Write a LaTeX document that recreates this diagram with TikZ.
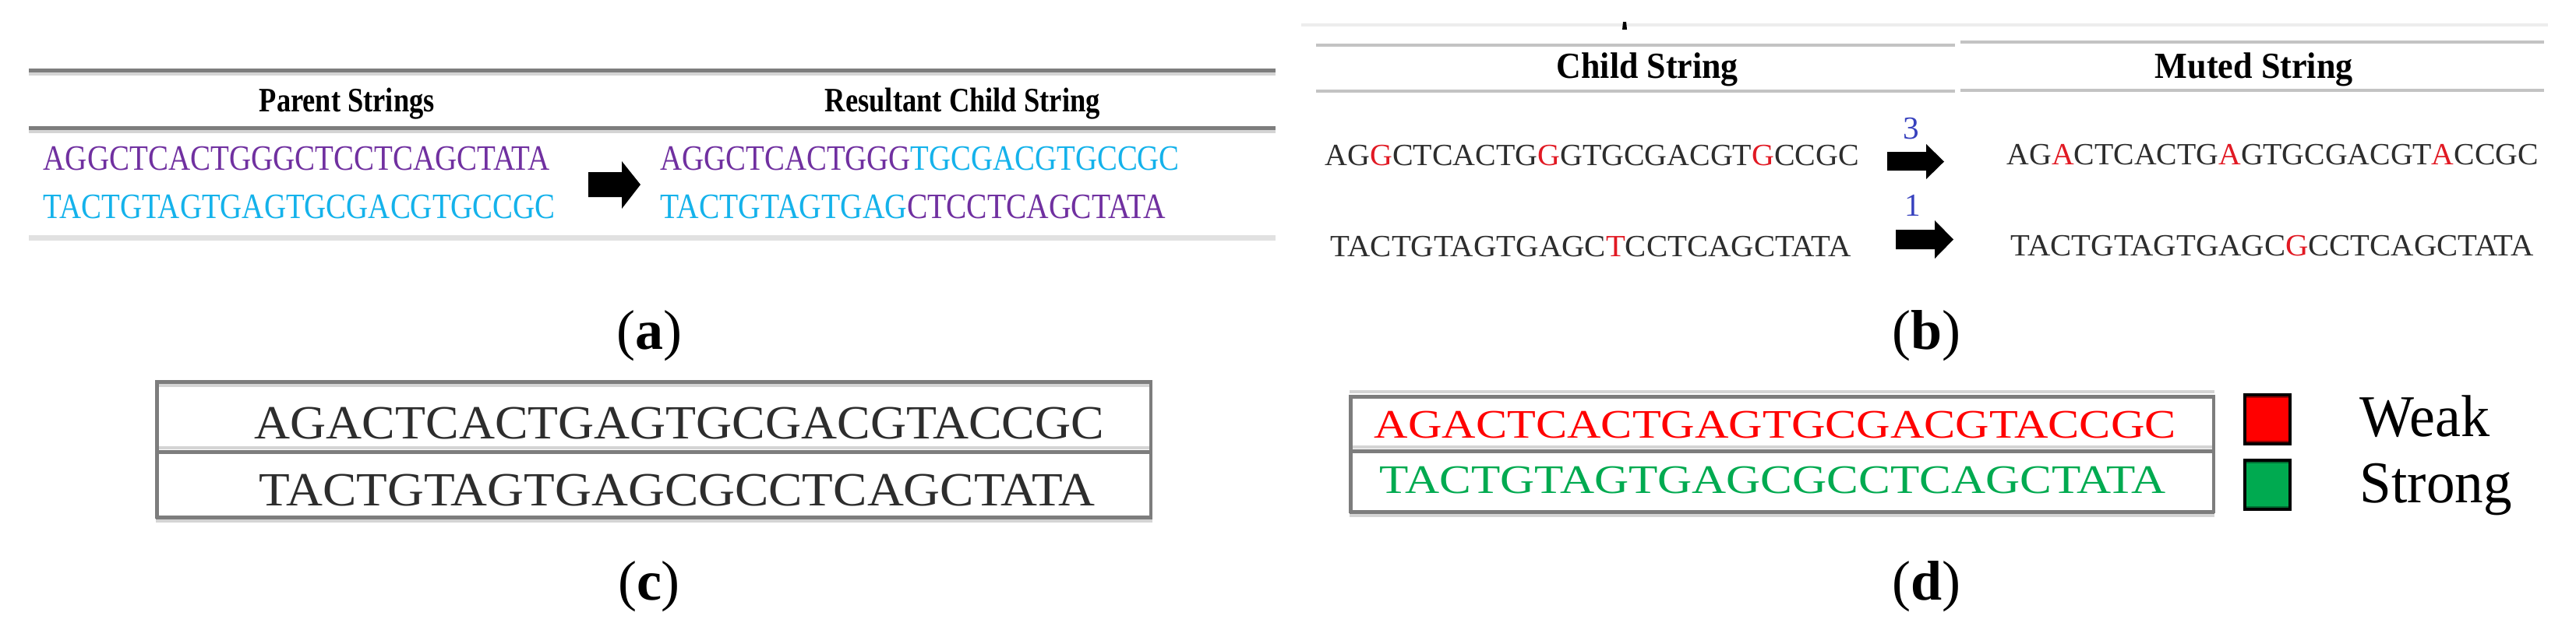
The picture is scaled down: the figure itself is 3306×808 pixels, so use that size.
\documentclass[tikz,border=0pt]{standalone}
\usepackage{fontspec}
\setmainfont{Liberation Serif}
\usepackage{graphicx}
\newlength\px
\setlength\px{0.25pt}
\newcommand\fitw[3]{\resizebox{#1\px}{\height}{\fontsize{#2}{#2}\selectfont #3}}
\definecolor{purp}{RGB}{112,48,160}
\definecolor{cyanc}{RGB}{20,178,235}
\definecolor{redc}{RGB}{255,0,0}
\definecolor{mutred}{RGB}{225,25,35}
\definecolor{greenc}{RGB}{0,170,80}
\definecolor{numblue}{RGB}{55,65,190}
\definecolor{rdark}{RGB}{125,125,125}
\definecolor{rlight}{RGB}{212,212,212}
\definecolor{rb}{RGB}{195,195,195}
\definecolor{txtc}{RGB}{45,45,45}
\definecolor{darkred}{RGB}{150,0,0}
\definecolor{darkgreen}{RGB}{0,110,50}
\newcommand\mr[1]{\textcolor{mutred}{#1}}
\begin{document}
\begin{tikzpicture}[x=0.25pt,y=-0.25pt,
  txt/.style={anchor=base west, inner sep=0pt},
  captxt/.style={anchor=base, inner sep=0pt, font=\fontsize{18}{18}\selectfont},
  drule/.style={draw=rdark, line width=1.25pt},
  lrule/.style={draw=rlight, line width=1pt},
  brule/.style={draw=rb, line width=1pt},
  blockarrow/.style={fill=black},
  legbox/.style={draw=black, line width=1pt, inner sep=0pt, minimum width=14.5pt, minimum height=15.75pt}]
\useasboundingbox (0,0) rectangle (3306,808);
\fill[white] (0,0) rectangle (3306,808);

% ---------- panel (a) ----------
\draw[lrule] (37,95) -- (1637,95);
\draw[drule] (37,90) -- (1637,90);
\draw[lrule] (37,169) -- (1637,169);
\draw[drule] (37,164) -- (1637,164);
\draw[draw=rlight!70, line width=1.75pt] (37,305) -- (1637,305);
\node[txt] (hP) at (332,143) {\fitw{225}{11}{\bfseries Parent Strings}};
\node[txt] (hR) at (1058,143) {\fitw{353}{11}{\bfseries Resultant Child String}};
\node[txt] (a1) at (55,218) {\fitw{650}{11.45}{\color{purp}AGGCTCACTGGGCTCCTCAGCTATA}};
\node[txt] (a2) at (55,280) {\fitw{657}{11.45}{\color{cyanc}TACTGTAGTGAGTGCGACGTGCCGC}};
\node[txt] (a3) at (847,218) {\fitw{666}{11.45}{\textcolor{purp}{AGGCTCACTGGG}\textcolor{cyanc}{TGCGACGTGCCGC}}};
\node[txt] (a4) at (847,280) {\fitw{648}{11.45}{\textcolor{cyanc}{TACTGTAGTGAG}\textcolor{purp}{CTCCTCAGCTATA}}};
\fill[blockarrow] (755,221) -- (798,221) -- (798,207) -- (822,237) -- (798,268) -- (798,253) -- (755,253) -- cycle;
\node[captxt] (capa) at (833,448) {(\textbf{a})};

% ---------- panel (b) ----------
\draw[draw=black!7, line width=1pt] (1670,32) -- (3270,32);
\fill (2083,28) -- (2087,28) -- (2088,38) -- (2082,38) -- cycle;
\draw[brule] (1689,58) -- (2509,58);
\draw[brule] (2516,54) -- (3265,54);
\draw[brule] (1689,117) -- (2509,117);
\draw[brule] (2516,116) -- (3265,116);
\node[txt] (hC) at (1997,100) {\fitw{233}{11.8}{\bfseries Child String}};
\node[txt] (hM) at (2765,100) {\fitw{254}{11.8}{\bfseries Muted String}};
\node[txt] (b1) at (1700,212) {\fitw{685}{9.9}{\color{txtc}AG\mr{G}CTCACTG\mr{G}GTGCGACGT\mr{G}CCGC}};
\node[txt] (b2) at (1707,329) {\fitw{668}{9.9}{\color{txtc}TACTGTAGTGAGC\mr{T}CCTCAGCTATA}};
\node[txt] (b3) at (2575,211) {\fitw{682}{9.9}{\color{txtc}AG\mr{A}CTCACTG\mr{A}GTGCGACGT\mr{A}CCGC}};
\node[txt] (b4) at (2580,328) {\fitw{671}{9.9}{\color{txtc}TACTGTAGTGAGC\mr{G}CCTCAGCTATA}};
\node[anchor=base, inner sep=0pt, text=numblue, font=\fontsize{10.3}{10.3}\selectfont] (n3) at (2453,178) {3};
\node[anchor=base, inner sep=0pt, text=numblue, font=\fontsize{10.3}{10.3}\selectfont] (n1) at (2455,277) {1};
\fill[blockarrow] (2422,195) -- (2472,195) -- (2472,185) -- (2495,207.5) -- (2472,230) -- (2472,219) -- (2422,219) -- cycle;
\fill[blockarrow] (2433,295) -- (2483,295) -- (2483,283) -- (2507,307.5) -- (2483,332) -- (2483,320) -- (2433,320) -- cycle;
\node[captxt] (capb) at (2472,448) {(\textbf{b})};

% ---------- panel (c) ----------
\draw[lrule] (200,495) -- (1479,495);
\draw[lrule] (200,575) -- (1479,575);
\draw[lrule] (200,669) -- (1479,669);
\draw[drule] (200,490) -- (1479,490);
\draw[drule] (200,580) -- (1479,580);
\draw[drule] (200,664) -- (1479,664);
\draw[drule] (201,488) -- (201,666);
\draw[draw=rdark, line width=0.8pt] (1477,488) -- (1477,666);
\node[txt] (c1) at (326,563) {\fitw{1090}{15.3}{\color{txtc}AGACTCACTGAGTGCGACGTACCGC}};
\node[txt] (c2) at (332,649) {\fitw{1073}{15.3}{\color{txtc}TACTGTAGTGAGCGCCTCAGCTATA}};
\node[captxt] (capc) at (833,770) {(\textbf{c})};

% ---------- panel (d) ----------
\draw[lrule] (1732,503) -- (2842,503);
\draw[lrule] (1732,574) -- (2842,574);
\draw[lrule] (1732,662) -- (2842,662);
\draw[drule] (1732,509) -- (2842,509);
\draw[drule] (1732,579) -- (2842,579);
\draw[drule] (1732,657) -- (2842,657);
\draw[drule] (1733,507) -- (1733,659);
\draw[draw=rdark, line width=0.8pt] (2841,507) -- (2841,659);
\node[txt] (d1) at (1763,562) {\fitw{1029}{13}{\color{redc}AGACTCACTGAGTGCGACGTACCGC}};
\node[txt] (d2) at (1770,633) {\fitw{1009}{13}{\color{greenc}TACTGTAGTGAGCGCCTCAGCTATA}};
\node[legbox, fill=redc, path picture={
    \fill[darkred] (path picture bounding box.north west) rectangle ([yshift=-1pt]path picture bounding box.north east);
    \fill[darkred] (path picture bounding box.south west) rectangle ([yshift=1pt]path picture bounding box.south east);}]
  (sqW) at (2910,538.5) {};
\node[legbox, fill=greenc, path picture={
    \fill[darkgreen] (path picture bounding box.north west) rectangle ([yshift=-1pt]path picture bounding box.north east);
    \fill[darkgreen] (path picture bounding box.south west) rectangle ([yshift=1pt]path picture bounding box.south east);}]
  (sqS) at (2910,622) {};
\node[txt] (weak) at (3028,560) {\fitw{167}{19}{Weak}};
\node[txt] (strong) at (3028,645) {\fitw{195}{19}{Strong}};
\node[captxt] (capd) at (2472,770) {(\textbf{d})};
\end{tikzpicture}
\end{document}
